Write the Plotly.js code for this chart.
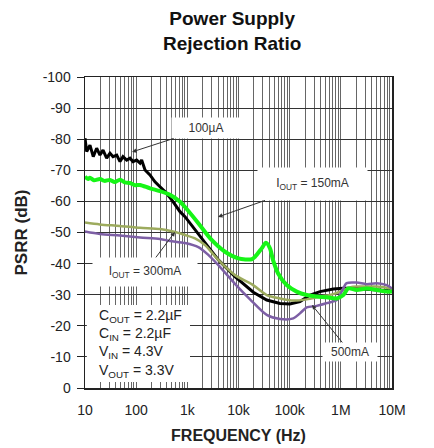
<!DOCTYPE html>
<html><head><meta charset="utf-8">
<script src="https://cdn.plot.ly/plotly-3.0.1.min.js"></script>
<style>html,body{margin:0;padding:0;background:#fff}#chart{width:434px;height:448px}</style>
</head><body><div id="chart"></div>
<script>
// ---- data ----
const freq100uA = [10, 10.8, 12.5, 14.5, 16.9, 19.6, 22.5, 26.5, 30.8, 35.3, 41.7, 48.3, 55.3, 65.3, 75.7, 86.7, 102, 119, 128, 149, 186, 233, 292, 395, 525, 719, 900, 1130, 1770, 2210, 4030, 8530, 15500, 19500, 35600, 64700, 101000, 159000, 250000, 392000, 712000, 1120000, 1730000, 3200000, 5020000, 10000000];
const psrr100uA = [-80.3, -76, -78.1, -74.4, -77.1, -74.9, -76.5, -73.9, -75.5, -74.4, -74.9, -72.8, -74.4, -73.3, -73.9, -72.8, -73.3, -72.3, -73.3, -70.1, -68.5, -66.3, -64.7, -62.6, -59.9, -56.7, -55.1, -53, -48.7, -46.5, -41.2, -35.8, -32, -30.8, -28.3, -27.2, -27, -27.8, -29.9, -31, -31.8, -32.1, -32.1, -31.8, -31.5, -31.2];

const freq150mA = [10, 11.5, 12.5, 15, 19.6, 24, 30.8, 38, 48.3, 60, 75.7, 95, 119, 186, 292, 458, 719, 900, 1640, 2990, 5450, 9910, 18100, 21000, 28400, 34400, 41200, 47200, 59100, 87500, 137000, 215000, 337000, 529000, 830000, 1120000, 1400000, 2040000, 3200000, 5020000, 7870000, 10000000];
const psrr150mA = [-68, -67.2, -67.6, -66.8, -67.2, -66.6, -66.9, -66.2, -67, -66.1, -65.9, -65.2, -65.3, -64.2, -63.3, -62.1, -59.9, -58.2, -53, -47.6, -43.8, -41.7, -41.4, -42.2, -44.9, -46.7, -44.9, -41.2, -36.9, -33.1, -31, -29.9, -29.4, -29.2, -28.8, -29.9, -32, -31.5, -32, -31.5, -31, -31];

const freq300mA = [10, 19.6, 48.3, 119, 292, 525, 900, 1410, 2210, 4030, 8530, 18100, 35600, 64700, 118000, 215000, 392000, 712000, 1120000, 1730000, 3200000, 5020000, 10000000];
const psrr300mA = [-53.2, -52.6, -52.1, -51.5, -51.1, -50.3, -49.2, -48.1, -46, -41.2, -36.3, -33.4, -29.9, -28.8, -28.1, -28.5, -29.4, -30.2, -31.5, -32.6, -32.6, -32.6, -32];

const freq500mA = [10, 19.6, 48.3, 119, 292, 458, 900, 1640, 2570, 4030, 8530, 16800, 35600, 64700, 118000, 159000, 215000, 337000, 529000, 830000, 1040000, 1300000, 2040000, 3200000, 5020000, 7870000, 10000000];
const psrr500mA = [-50.3, -49.5, -49, -48.4, -47.9, -47.3, -46.6, -45.3, -42.8, -39.5, -33.5, -28.5, -23.5, -22.2, -22.4, -24, -25.9, -26.4, -27.3, -28.3, -31, -33.7, -33.9, -33.4, -33.7, -33.1, -32];

const xTickVals = [10, 100, 1000, 10000, 100000, 1000000, 10000000];
const xTickText = ['10', '100', '1k', '10k', '100k', '1M', '10M'];
const yTickVals = [-100, -90, -80, -70, -60, -50, -40, -30, -20, -10, 0];
const yTickText = ['-100', '-90', '-80', '-70', '-60', '-50', '-40', '-30', '-20', '-10', '0'];

const seriesNames = ['100µA', '300mA', '500mA', '150mA'];
const conditionsText = 'C<sub>OUT</sub> = 2.2µF<br>C<sub>IN</sub> = 2.2µF<br>V<sub>IN</sub> = 4.3V<br>V<sub>OUT</sub> = 3.3V';

// ---- build ----
const minorVals = [];
for (let d = 1; d < 7; d++) for (let k = 2; k < 10; k++) minorVals.push(k * Math.pow(10, d));

const FONT = 'Liberation Sans, Arial, sans-serif';
const traces = [
  {x: freq100uA, y: psrr100uA, name: seriesNames[0], mode: 'lines', line: {color: '#000000', width: 3}},
  {x: freq300mA, y: psrr300mA, name: seriesNames[1], mode: 'lines', line: {color: '#9dab5e', width: 2.5, shape: 'spline', smoothing: 0.8}},
  {x: freq500mA, y: psrr500mA, name: seriesNames[2], mode: 'lines', line: {color: '#7d5fa5', width: 2.5, shape: 'spline', smoothing: 0.8}},
  {x: freq150mA, y: psrr150mA, name: seriesNames[3], mode: 'lines', line: {color: '#16f516', width: 4, shape: 'spline', smoothing: 0.8}}
];

const lg = v => Math.log10(v);
const annFont = {family: FONT, size: 12, color: '#333'};
const arrowCommon = {showarrow: true, arrowhead: 2, arrowsize: 0.9, arrowwidth: 1, arrowcolor: '#333', bgcolor: '#ffffff', borderpad: 0, font: annFont};

const layout = {
  width: 434, height: 448,
  margin: {l: 85, r: 42, t: 77, b: 60},
  paper_bgcolor: '#ffffff', plot_bgcolor: '#ffffff',
  showlegend: false,
  font: {family: FONT, color: '#222'},
  xaxis: {type: 'log', range: [1, 7], tickmode: 'array', tickvals: xTickVals, ticktext: xTickText,
          showgrid: true, gridcolor: '#666', gridwidth: 1, zeroline: false,
          minor: {tickmode: 'array', tickvals: minorVals, showgrid: true, gridcolor: '#666', gridwidth: 1, ticks: ''},
          showline: true, mirror: true, linecolor: '#222', linewidth: 1.5, ticks: '', ticklabelstandoff: 9,
          tickfont: {family: FONT, size: 14, color: '#222'},
          title: {text: '<b>FREQUENCY (Hz)</b>', font: {family: FONT, size: 16, color: '#222'}, standoff: 12}},
  yaxis: {range: [0, -100], tickmode: 'array', tickvals: yTickVals, ticktext: yTickText,
          showgrid: true, gridcolor: '#333', gridwidth: 1, zeroline: false,
          showline: true, mirror: true, linecolor: '#222', linewidth: 1.5,
          ticks: 'outside', ticklen: 7, tickcolor: '#222', tickwidth: 1, ticklabelstandoff: 3,
          tickfont: {family: FONT, size: 14, color: '#222'},
          title: {text: '<b>PSRR (dB)</b>', font: {family: FONT, size: 17, color: '#222'}, standoff: 10}},
  shapes: [
    {type: 'rect', xref: 'paper', yref: 'paper', x0: 0.006, x1: 0.342, y0: 0.019, y1: 0.267,
     fillcolor: '#ffffff', line: {width: 0}, layer: 'above'}
  ],
  annotations: [
    {xref: 'paper', yref: 'paper', x: (232 - 85) / 307, y: (388 - 31) / 311, xanchor: 'center', yanchor: 'middle',
     showarrow: false, text: '<b>Power Supply<br>Rejection Ratio</b>', font: {family: FONT, size: 19, color: '#111'}},
    Object.assign({x: lg(83), y: -75.9, ax: 74, ay: -24, text: '100µA', width: 68, height: 20}, arrowCommon),
    Object.assign({x: lg(3975), y: -55, ax: 94, ay: -33, text: 'I<sub>OUT</sub> = 150mA', width: 109, height: 32}, arrowCommon),
    Object.assign({x: lg(574), y: -50.2, ax: -30, ay: 40, text: 'I<sub>OUT</sub> = 300mA', width: 104, height: 28}, arrowCommon),
    Object.assign({x: lg(273000), y: -26.7, ax: 38, ay: 47, text: '500mA', width: 54, height: 18}, arrowCommon),
    {xref: 'paper', yref: 'paper', x: 0.04, y: 0.143, xanchor: 'left', yanchor: 'middle', align: 'left',
     showarrow: false, text: conditionsText, font: {family: FONT, size: 14, color: '#222'}}
  ]
};

Plotly.newPlot('chart', traces, layout, {staticPlot: true, displayModeBar: false});
</script>
</body></html>
